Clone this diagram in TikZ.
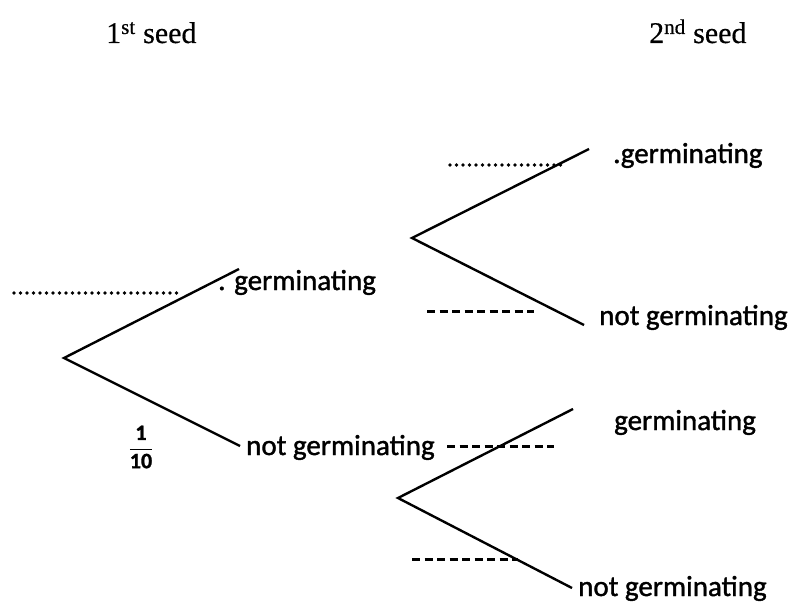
\documentclass[tikz,border=0pt]{standalone}
\usepackage{fontspec}
\setmainfont{Liberation Serif}[FakeBold=0.5]
\newfontfamily\labfont{Carlito}[FakeBold=1.3]
\begin{document}
\begin{tikzpicture}[x=1pt,y=-1pt,
  branch/.style={line width=2.4pt},
  lab/.style={font=\labfont\fontsize{29}{32}\selectfont, anchor=base west, inner sep=0pt},
  head/.style={font=\fontsize{30}{34}\selectfont, anchor=base west, inner sep=0pt},
  blankdots/.style={line width=3.6pt, line cap=round, dash pattern=on 0pt off 6.5pt},
  blankdash/.style={line width=3pt, dash pattern=on 8pt off 4.5pt}]
\useasboundingbox (0,0) rectangle (790,602);
% headings
\node[head] (h1) at (106,43) {1\textsuperscript{st} seed};
\node[head] (h2) at (649,43) {2\textsuperscript{nd} seed};
% first stage
\coordinate (r) at (64,358);
\coordinate (g1) at (239,269);
\coordinate (n1) at (240,446);
\draw[branch] (g1) -- (r) -- (n1);
\node[lab] (lg1) at (218,290) {. germinating};
\node[lab] (ln1) at (246,455) {not germinating};
% upper second stage
\coordinate (ra) at (412,238);
\coordinate (ga) at (589,149);
\coordinate (na) at (584,325);
\draw[branch] (ga) -- (ra) -- (na);
\node[lab] (lga) at (613,163) {.germinating};
\node[lab] (lna) at (599,325) {not germinating};
% lower second stage
\coordinate (rb) at (398,498);
\coordinate (gb) at (573,409);
\coordinate (nb) at (572,588);
\draw[branch] (gb) -- (rb) -- (nb);
\node[lab] (lgb) at (614,430) {germinating};
\node[lab] (lnb) at (578,596) {not germinating};
% blanks
\coordinate (d1a) at (14,293); \coordinate (d1b) at (178,293);
\draw[blankdots] (d1a) -- (d1b);
\coordinate (d2a) at (450,165); \coordinate (d2b) at (566,165);
\draw[blankdots] (d2a) -- (d2b);
\coordinate (e1a) at (427,311); \coordinate (e1b) at (534,311);
\draw[blankdash] (e1a) -- (e1b);
\coordinate (e2a) at (447,446); \coordinate (e2b) at (554,446);
\draw[blankdash] (e2a) -- (e2b);
\coordinate (e3a) at (412,559); \coordinate (e3b) at (518,559);
\draw[blankdash] (e3a) -- (e3b);
% fraction
\node[inner sep=0pt, font=\labfont\bfseries\fontsize{22}{24}\selectfont] (fr) at (141,447)
  {$\displaystyle\frac{\hbox{1}}{\hbox{10}}$};
\end{tikzpicture}
\end{document}
